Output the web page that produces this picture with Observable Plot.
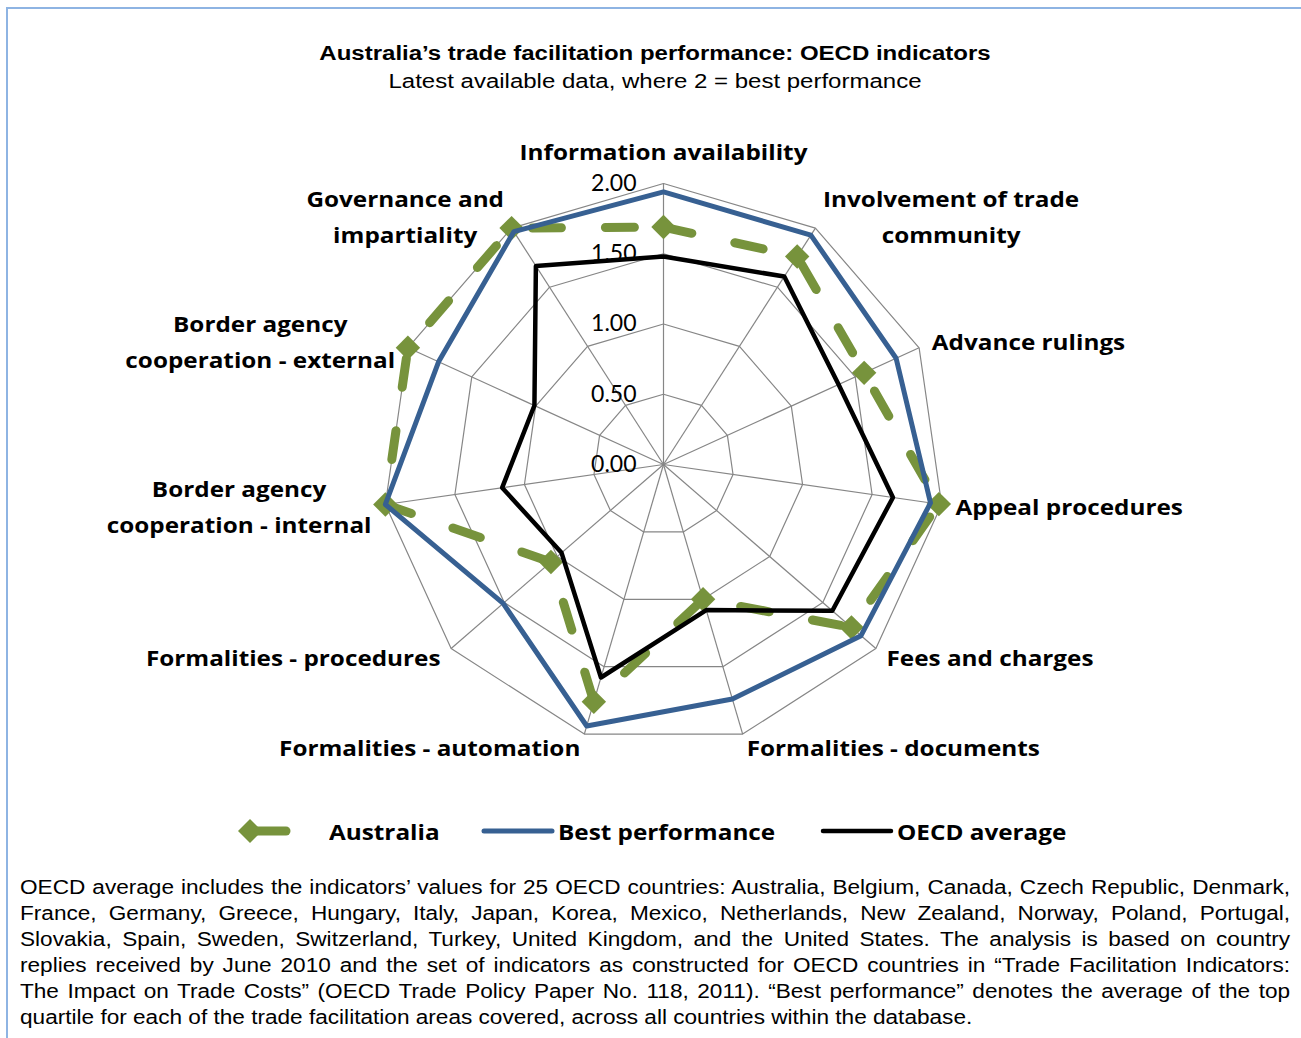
<!DOCTYPE html>
<html>
<head>
<meta charset="utf-8">
<script src="https://cdn.jsdelivr.net/npm/d3@7"></script>
<script src="https://cdn.jsdelivr.net/npm/@observablehq/plot@0.6"></script>
<style>
  html, body { margin: 0; padding: 0; background: #fff; }
  body { width: 1301px; height: 1038px; position: relative; overflow: hidden; font-family: "Liberation Sans", Arial, sans-serif; color: #000; }
  #frame { position: absolute; left: 6px; top: 7px; width: 1310px; height: 1050px; border-top: 2px solid #8EB4E3; border-left: 2px solid #8EB4E3; box-sizing: border-box; }
  #title { position: absolute; left: 7px; width: 1296px; top: 41px; text-align: center; font-weight: bold; font-size: 20px; line-height: 24px; transform: scaleX(1.2); transform-origin: 648px 0; }
  #subtitle { position: absolute; left: 7px; width: 1296px; top: 69px; text-align: center; font-size: 20px; line-height: 24px; transform: scaleX(1.2); transform-origin: 648px 0; }
  #chart { position: absolute; left: 0; top: 110px; }
  #legend { position: absolute; left: 0; top: 813px; width: 1301px; height: 36px; font-family: "Open Sans", Lato, sans-serif; font-weight: bold; font-size: 21.5px; }
  .leg { position: absolute; top: 0; height: 36px; display: flex; align-items: center; white-space: nowrap; }
  .leg svg { display: block; }
  .leg span { display: inline-block; transform: scaleX(1.13); transform-origin: 0 50%; }
  #caption { position: absolute; left: 20px; top: 874px; width: 1124px; font-size: 20px; line-height: 26px; transform: scaleX(1.13); transform-origin: 0 0; }
  #caption div { text-align: justify; text-align-last: justify; }
  #caption div.last { text-align-last: left; }
</style>
</head>
<body>
<div id="frame"></div>
<div id="title"></div>
<div id="subtitle"></div>
<div id="chart"></div>
<div id="legend"></div>
<div id="caption"></div>
<script>
// ---------- data ----------
const titleText = "Australia’s trade facilitation performance: OECD indicators";
const subtitleText = "Latest available data, where 2 = best performance";

const categories = [
  "Information availability",
  "Involvement of trade community",
  "Advance rulings",
  "Appeal procedures",
  "Fees and charges",
  "Formalities - documents",
  "Formalities - automation",
  "Formalities - procedures",
  "Border agency cooperation - internal",
  "Border agency cooperation - external",
  "Governance and impartiality"
];
const axisLabels = [
  "Information availability",
  "Involvement of trade\ncommunity",
  "Advance rulings",
  "Appeal procedures",
  "Fees and charges",
  "Formalities - documents",
  "Formalities - automation",
  "Formalities - procedures",
  "Border agency\ncooperation - internal",
  "Border agency\ncooperation - external",
  "Governance and\nimpartiality"
];
const australia       = [1.69, 1.76, 1.57, 1.98, 1.77, 1.00, 1.76, 1.06, 2.00, 2.00, 2.00];
const bestPerformance = [1.94, 1.94, 1.82, 1.92, 1.86, 1.74, 1.94, 1.51, 2.00, 1.76, 1.97];
const oecdAverage     = [1.48, 1.59, 1.37, 1.65, 1.59, 1.08, 1.58, 0.96, 1.16, 1.01, 1.68];
const seriesNames = ["Australia", "Best performance", "OECD average"];
const tickValues = [0, 0.5, 1, 1.5, 2];
const gridLevels = [0.5, 1, 1.5, 2];
const captionLines = [
  "OECD average includes the indicators’ values for 25 OECD countries: Australia, Belgium, Canada, Czech Republic, Denmark,",
  "France, Germany, Greece, Hungary, Italy, Japan, Korea, Mexico, Netherlands, New Zealand, Norway, Poland, Portugal,",
  "Slovakia, Spain, Sweden, Switzerland, Turkey, United Kingdom, and the United States. The analysis is based on country",
  "replies received by June 2010 and the set of indicators as constructed for OECD countries in “Trade Facilitation Indicators:",
  "The Impact on Trade Costs” (OECD Trade Policy Paper No. 118, 2011). “Best performance” denotes the average of the top",
  "quartile for each of the trade facilitation areas covered, across all countries within the database."
];

// ---------- styles ----------
const colors = {"Australia": "#77933C", "Best performance": "#376092", "OECD average": "#000000"};
const gridColor = "#868686";
const labelFont = "'Open Sans', Lato, sans-serif";
const tickFont = "Lato, 'Open Sans', sans-serif";
const labelStretch = 1.13;

// ---------- layout ----------
const W = 1301, H = 690;
const cx = 663, cy = 354;       // centre of the radar in svg px
const ppu = 140.5;              // px per unit
const maxV = 2;
const n = categories.length;
const angle = i => i * 2 * Math.PI / n;
const pt = (i, v) => ({x: v * Math.sin(angle(i)), y: v * Math.cos(angle(i))});

document.getElementById("title").textContent = titleText;
document.getElementById("subtitle").textContent = subtitleText;

// grid
const gridPts = gridLevels.flatMap(l => categories.map((c, i) => ({level: l, ...pt(i, l)})));
const spokes = categories.map((c, i) => ({x1: 0, y1: 0, ...(p => ({x2: p.x, y2: p.y}))(pt(i, maxV))}));

// series
const seriesData = {
  "Australia": australia,
  "Best performance": bestPerformance,
  "OECD average": oecdAverage
};
const seriesPts = name => seriesData[name].map((v, i) => ({series: name, category: categories[i], value: v, ...pt(i, v)}));

// axis label placement (computed from the angle and the measured text size)
const ctx = document.createElement("canvas").getContext("2d");
const labelSize = 21.5, labelLH = 36;
ctx.font = `bold ${labelSize}px ${labelFont}`;
const pad = 14;
const labelData = axisLabels.map((lab, i) => {
  const lines = lab.split("\n");
  const w = labelStretch * Math.max(...lines.map(s => ctx.measureText(s).width));
  const h = lines.length === 1 ? 36 : lines.length * labelLH;
  const rP = maxV + pad / ppu;
  const s = Math.sin(angle(i)), c = Math.cos(angle(i));
  let x = rP * s, y = rP * c;
  if (Math.abs(s) < 0.1) { y += Math.sign(c) * h / 2 / ppu; }
  else { x += Math.sign(s) * w / 2 / ppu; }
  return {label: lab, x, y};
});

const fmt = d3.format(".2f");

const chart = Plot.plot({
  width: W,
  height: H,
  margin: 0,
  x: {domain: [-cx / ppu, (W - cx) / ppu], axis: null},
  y: {domain: [-(H - cy) / ppu, cy / ppu], axis: null},
  style: {background: "transparent", overflow: "visible"},
  marks: [
    Plot.line(gridPts, {x: "x", y: "y", z: "level", curve: "linear-closed", stroke: gridColor, strokeWidth: 1.2}),
    Plot.link(spokes, {x1: "x1", y1: "y1", x2: "x2", y2: "y2", stroke: gridColor, strokeWidth: 1.2}),
    Plot.text(tickValues, {x: 0, y: d => d, text: d => fmt(d), textAnchor: "end", dx: -27, fontFamily: tickFont, fontSize: 23, fill: "#000"}),
    Plot.line(seriesPts("Australia"), {x: "x", y: "y", curve: "linear-closed", stroke: colors["Australia"], strokeWidth: 9, strokeDasharray: "29 44", strokeLinecap: "round", strokeLinejoin: "round"}),
    Plot.dot(seriesPts("Australia"), {x: "x", y: "y", symbol: "diamond2", r: 11, fill: colors["Australia"], stroke: "none"}),
    Plot.line(seriesPts("Best performance"), {x: "x", y: "y", curve: "linear-closed", stroke: colors["Best performance"], strokeWidth: 5, strokeLinejoin: "round"}),
    Plot.line(seriesPts("OECD average"), {x: "x", y: "y", curve: "linear-closed", stroke: colors["OECD average"], strokeWidth: 4.5, strokeLinejoin: "round"}),
    Plot.text(labelData, {x: "x", y: "y", text: "label", dy: -3, textAnchor: "middle", lineAnchor: "middle", lineHeight: labelLH / labelSize, fontFamily: labelFont, fontWeight: "bold", fontSize: labelSize, fill: "#000"})
  ]
});
document.getElementById("chart").appendChild(chart);

// stretch the axis-label glyphs horizontally (the reference type is wide)
{
  const textGroups = chart.querySelectorAll('g[aria-label="text"]');
  const g = textGroups[textGroups.length - 1];
  g.querySelectorAll("text").forEach(t => {
    const tr = t.getAttribute("transform");
    if (tr) {
      t.setAttribute("transform", tr + ` scale(${labelStretch},1)`);
    } else {
      const x = +t.getAttribute("x") || 0, y = +t.getAttribute("y") || 0;
      t.setAttribute("transform", `translate(${x},${y}) scale(${labelStretch},1) translate(${-x},${-y})`);
    }
  });
}

// ---------- legend ----------
const legend = document.getElementById("legend");
const legendItems = [
  {name: seriesNames[0], left: 236, swW: 58, gap: 35},
  {name: seriesNames[1], left: 480, swW: 76, gap: 2},
  {name: seriesNames[2], left: 819, swW: 76, gap: 2}
];
legendItems.forEach(item => {
  const div = document.createElement("div");
  div.className = "leg";
  div.style.left = item.left + "px";
  const svgNS = "http://www.w3.org/2000/svg";
  const sw = document.createElementNS(svgNS, "svg");
  sw.setAttribute("width", item.swW);
  sw.setAttribute("height", 36);
  const col = colors[item.name];
  if (item.name === "Australia") {
    const l = document.createElementNS(svgNS, "line");
    l.setAttribute("x1", 14); l.setAttribute("x2", 50); l.setAttribute("y1", 18); l.setAttribute("y2", 18);
    l.setAttribute("stroke", col); l.setAttribute("stroke-width", 9); l.setAttribute("stroke-linecap", "round");
    sw.appendChild(l);
    const p = document.createElementNS(svgNS, "path");
    p.setAttribute("d", "M2,18 L14,6 L26,18 L14,30 Z");
    p.setAttribute("fill", col);
    sw.appendChild(p);
  } else {
    const l = document.createElementNS(svgNS, "line");
    l.setAttribute("x1", 4); l.setAttribute("x2", 72); l.setAttribute("y1", 18); l.setAttribute("y2", 18);
    l.setAttribute("stroke", col); l.setAttribute("stroke-width", item.name === "OECD average" ? 4.5 : 5); l.setAttribute("stroke-linecap", "round");
    sw.appendChild(l);
  }
  div.appendChild(sw);
  const t = document.createElement("span");
  t.textContent = item.name;
  t.style.marginLeft = item.gap + "px";
  div.appendChild(t);
  legend.appendChild(div);
});

// ---------- caption ----------
const cap = document.getElementById("caption");
captionLines.forEach((line, i) => {
  const d = document.createElement("div");
  d.textContent = line;
  if (i === captionLines.length - 1) d.className = "last";
  cap.appendChild(d);
});
</script>
</body>
</html>
